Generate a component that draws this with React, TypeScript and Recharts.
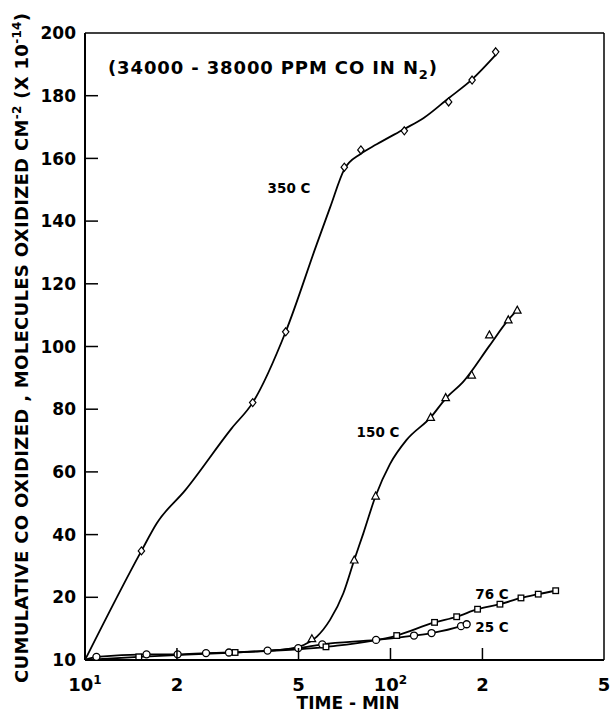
import React from 'react';
import {
  ComposedChart,
  Line,
  Scatter,
  XAxis,
  YAxis,
  ReferenceLine,
} from 'recharts';

// measured points (time in min, cumulative CO x 1e-14)
const time350 = [15.3, 35.4, 45.4, 70.6, 80.0, 111, 155, 185, 221];
const val350 = [34.8, 82.1, 104.7, 157.2, 162.7, 168.8, 178, 185, 194];

const time150 = [55.3, 76.1, 89.4, 135.4, 151.6, 184.4, 210.7, 243, 260];
const val150 = [13.4, 31.9, 52.3, 77.4, 83.7, 90.9, 103.7, 108.5, 111.6];

const time76 = [15.0, 31.0, 61.5, 104.8, 139.4, 164.7, 192.8, 228.2, 267.4, 304.6, 347.4];
const val76 = [10.5, 11.2, 12.1, 13.9, 16.0, 16.9, 18.1, 18.9, 19.9, 21.0, 22.1];

const time25 = [10.9, 15.9, 20.1, 24.9, 29.6, 39.6, 49.9, 59.8, 89.7, 119.4, 136.3, 170.2, 177.6];
const val25 = [10.5, 10.9, 10.9, 11.1, 11.2, 11.5, 11.9, 12.5, 13.2, 13.9, 14.3, 15.4, 15.7];

// hand-drawn fit curves
const fit350Time = [10, 15.3, 17.2, 21.3, 30.2, 35.4, 45.4, 57.3, 63.4, 70.6, 80, 90.1, 111, 128.1, 155, 185, 221];
const fit350Val = [10, 34.8, 43.7, 54.2, 73.9, 82.1, 104.7, 132.5, 144.3, 156.5, 161.5, 164.5, 169.4, 172.8, 179.2, 185.2, 193];

const fit150Time = [40, 48, 52, 57.3, 63.4, 70.1, 76.1, 81.5, 89.4, 99.6, 112.9, 135.4, 151.6, 173.2, 210.7, 243, 260];
const fit150Val = [11.5, 11.9, 12.4, 13.7, 16.4, 21.3, 31.9, 40.4, 52.3, 62.5, 70.2, 77.4, 83.4, 88.8, 100.2, 108.5, 111.6];

const fit76Time = [10, ...time76];
const fit76Val = [10, ...val76];
const fit25Time = [10, ...time25];
const fit25Val = [10, ...val25];

const xTicks = [10, 20, 50, 100, 200, 500];
const yTicks = [0, 20, 40, 60, 80, 100, 120, 140, 160, 180, 200];

// the axis is squeezed below 20: "10" sits where 0 would be
const toAxis = (v: number) => (v >= 20 ? v : (v - 10) * 2);

const zip = (xs: number[], ys: number[]) => xs.map((x, i) => ({ x, y: toAxis(ys[i]) }));

const FONT = '"DejaVu Sans", sans-serif';

const Circle = (p: any) => (
  <circle cx={p.cx} cy={p.cy} r={3.5} fill="#fff" stroke="#000" strokeWidth={1.3} />
);
const Square = (p: any) => (
  <rect x={p.cx - 2.8} y={p.cy - 2.8} width={5.6} height={5.6} fill="#fff" stroke="#000" strokeWidth={1.3} />
);
const Diamond = (p: any) => (
  <path
    d={`M${p.cx},${p.cy - 4} L${p.cx + 3.2},${p.cy} L${p.cx},${p.cy + 4} L${p.cx - 3.2},${p.cy} Z`}
    fill="#fff"
    stroke="#000"
    strokeWidth={1.2}
  />
);
const Triangle = (p: any) => (
  <path
    d={`M${p.cx},${p.cy - 4} L${p.cx + 3.8},${p.cy + 3} L${p.cx - 3.8},${p.cy + 3} Z`}
    fill="#fff"
    stroke="#000"
    strokeWidth={1.2}
  />
);

const YTick = (props: any) => {
  const { x, y, payload } = props;
  const v = payload.value;
  return (
    <g>
      <text x={x} y={y} dy="0.36em" textAnchor="end" fontFamily={FONT} fontSize={17} fontWeight="bold" fill="#000">
        {v === 0 ? '10' : v}
      </text>
      {v > 0 && v < 200 && <line x1={x + 9} x2={x + 22} y1={y} y2={y} stroke="#000" strokeWidth={1.5} />}
    </g>
  );
};

const XTick = (props: any) => {
  const { x, y, payload } = props;
  const v = payload.value;
  const label =
    v === 10 || v === 100 ? (
      <>
        10
        <tspan fontSize={12} dy={-7}>
          {v === 10 ? '1' : '2'}
        </tspan>
      </>
    ) : (
      String(v).charAt(0)
    );
  return (
    <g>
      <text x={x} y={y} dy="0.71em" textAnchor="middle" fontFamily={FONT} fontSize={18} fontWeight="bold" fill="#000">
        {label}
      </text>
      {v > 10 && v < 500 && <line x1={x} x2={x} y1={y - 18} y2={y - 30} stroke="#000" strokeWidth={1.5} />}
    </g>
  );
};

export default function App() {
  return (
    <div style={{ position: 'absolute', left: 0, top: 0, width: 610, height: 712, background: '#fff' }}>
      <ComposedChart width={610} height={712} margin={{ top: 33, right: 6, left: 0, bottom: 0 }}>
        <XAxis
          dataKey="x"
          type="number"
          scale="log"
          domain={[10, 500]}
          ticks={xTicks}
          interval={0}
          allowDataOverflow
          height={52}
          tickSize={0}
          tickMargin={18}
          tick={(p: any) => <XTick {...p} />}
          axisLine={{ stroke: '#000', strokeWidth: 2.2 }}
        />
        <YAxis
          dataKey="y"
          type="number"
          domain={[0, 200]}
          ticks={yTicks}
          interval={0}
          allowDataOverflow
          width={85}
          tickSize={0}
          tickMargin={9}
          tick={(p: any) => <YTick {...p} />}
          axisLine={{ stroke: '#000', strokeWidth: 2 }}
        />
        <ReferenceLine y={200} stroke="#000" strokeWidth={1.5} />
        <ReferenceLine x={500} stroke="#000" strokeWidth={1.5} />

        <Line data={zip(fit25Time, fit25Val)} dataKey="y" type="monotone" stroke="#000" strokeWidth={1.8} dot={false} isAnimationActive={false} />
        <Line data={zip(fit76Time, fit76Val)} dataKey="y" type="monotone" stroke="#000" strokeWidth={1.8} dot={false} isAnimationActive={false} />
        <Line data={zip(fit150Time, fit150Val)} dataKey="y" type="monotone" stroke="#000" strokeWidth={1.8} dot={false} isAnimationActive={false} />
        <Line data={zip(fit350Time, fit350Val)} dataKey="y" type="monotone" stroke="#000" strokeWidth={1.8} dot={false} isAnimationActive={false} />

        <Scatter data={zip(time25, val25)} shape={Circle} isAnimationActive={false} />
        <Scatter data={zip(time76, val76)} shape={Square} isAnimationActive={false} />
        <Scatter data={zip(time150, val150)} shape={Triangle} isAnimationActive={false} />
        <Scatter data={zip(time350, val350)} shape={Diamond} isAnimationActive={false} />
      </ComposedChart>

      <svg
        width={610}
        height={712}
        style={{ position: 'absolute', left: 0, top: 0, pointerEvents: 'none' }}
        fontFamily={FONT}
        fill="#000"
      >
        <text x={108} y={74} fontSize={18} fontWeight="bold" textLength={329} lengthAdjust="spacing">
          (34000 - 38000 PPM CO IN N<tspan fontSize={13} dy={5}>2</tspan>
          <tspan dy={-5}>)</tspan>
        </text>
        <text
          transform="translate(28,348) rotate(-90)"
          textAnchor="middle"
          fontSize={18}
          fontWeight="bold"
          textLength={670}
          lengthAdjust="spacing"
        >
          CUMULATIVE CO OXIDIZED , MOLECULES OXIDIZED CM<tspan fontSize={12} dy={-7}>-2</tspan>
          <tspan dy={7}> (X 10</tspan>
          <tspan fontSize={12} dy={-7}>-14</tspan>
          <tspan dy={7}>)</tspan>
        </text>
        <g fontSize={13.5} fontWeight="bold" textAnchor="middle">
          <text x={289} y={193}>350 C</text>
          <text x={378} y={437}>150 C</text>
          <text x={492} y={599}>76 C</text>
          <text x={492} y={632}>25 C</text>
        </g>
        <text x={348} y={709} fontSize={17} fontWeight="bold" textAnchor="middle">TIME - MIN</text>
      </svg>
    </div>
  );
}
